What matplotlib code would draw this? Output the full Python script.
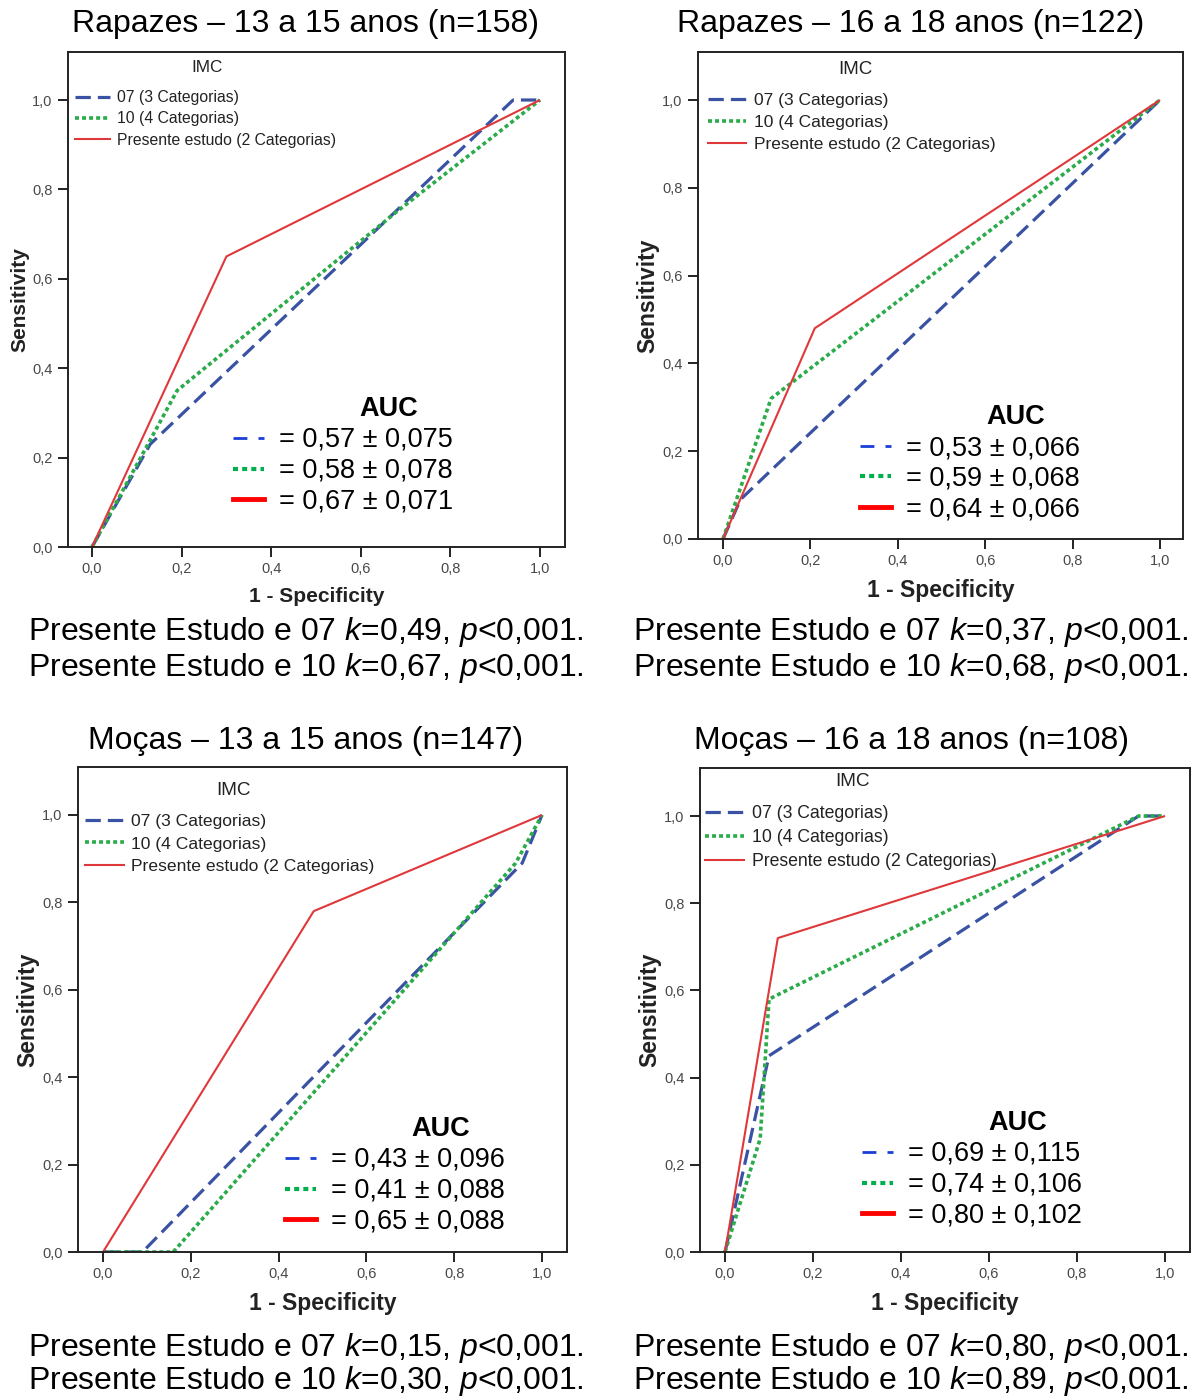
import numpy as np
import matplotlib.pyplot as plt
from matplotlib.lines import Line2D

plt.rcParams['font.family'] = ['Liberation Sans', 'DejaVu Sans']
plt.rcParams['mathtext.fontset'] = 'custom'
plt.rcParams['mathtext.rm'] = 'Liberation Sans'
plt.rcParams['mathtext.it'] = 'Liberation Sans:italic'

# data (x = 1 - specificity, y = sensitivity)
titles = ["Rapazes \u2013 13 a 15 anos (n=158)", "Rapazes \u2013 16 a 18 anos (n=122)",
          "Mo\u00e7as \u2013 13 a 15 anos (n=147)", "Mo\u00e7as \u2013 16 a 18 anos (n=108)"]
series_names = ["07 (3 Categorias)", "10 (4 Categorias)", "Presente estudo (2 Categorias)"]

r1315_07_x = [0, 0.13, 0.94, 1]
r1315_07_y = [0, 0.23, 1, 1]
r1315_10_x = [0, 0.19, 0.68, 1]
r1315_10_y = [0, 0.35, 0.75, 1]
r1315_pe_x = [0, 0.30, 1]
r1315_pe_y = [0, 0.65, 1]

r1618_07_x = [0, 0.04, 1]
r1618_07_y = [0, 0.09, 1]
r1618_10_x = [0, 0.11, 1]
r1618_10_y = [0, 0.32, 1]
r1618_pe_x = [0, 0.21, 1]
r1618_pe_y = [0, 0.48, 1]

m1315_07_x = [0, 0.09, 0.955, 1]
m1315_07_y = [0, 0, 0.89, 1]
m1315_10_x = [0, 0.16, 0.94, 1]
m1315_10_y = [0, 0, 0.89, 1]
m1315_pe_x = [0, 0.48, 1]
m1315_pe_y = [0, 0.78, 1]

m1618_07_x = [0, 0.10, 0.94, 1]
m1618_07_y = [0, 0.45, 1, 1]
m1618_10_x = [0, 0.08, 0.10, 0.94, 1]
m1618_10_y = [0, 0.26, 0.58, 1, 1]
m1618_pe_x = [0, 0.12, 1]
m1618_pe_y = [0, 0.72, 1]

curves = [
    [(r1315_07_x, r1315_07_y), (r1315_10_x, r1315_10_y), (r1315_pe_x, r1315_pe_y)],
    [(r1618_07_x, r1618_07_y), (r1618_10_x, r1618_10_y), (r1618_pe_x, r1618_pe_y)],
    [(m1315_07_x, m1315_07_y), (m1315_10_x, m1315_10_y), (m1315_pe_x, m1315_pe_y)],
    [(m1618_07_x, m1618_07_y), (m1618_10_x, m1618_10_y), (m1618_pe_x, m1618_pe_y)],
]

auc_r1315 = ["= 0,57 \u00b1 0,075", "= 0,58 \u00b1 0,078", "= 0,67 \u00b1 0,071"]
auc_r1618 = ["= 0,53 \u00b1 0,066", "= 0,59 \u00b1 0,068", "= 0,64 \u00b1 0,066"]
auc_m1315 = ["= 0,43 \u00b1 0,096", "= 0,41 \u00b1 0,088", "= 0,65 \u00b1 0,088"]
auc_m1618 = ["= 0,69 \u00b1 0,115", "= 0,74 \u00b1 0,106", "= 0,80 \u00b1 0,102"]
aucs = [auc_r1315, auc_r1618, auc_m1315, auc_m1618]

kappa_07 = ["0,49", "0,37", "0,15", "0,80"]
kappa_10 = ["0,67", "0,68", "0,30", "0,89"]

ticks = [0, 0.2, 0.4, 0.6, 0.8, 1.0]
tick_labels = ["0,0", "0,2", "0,4", "0,6", "0,8", "1,0"]

# layout (pixels)
W, H = 1201, 1400
fig = plt.figure(figsize=(W / 100, H / 100), dpi=100)


def fx(x):
    return x / W


def fy(y):
    return 1 - y / H


# box (left, top, right, bottom), pixel of x=0, x=1, y=0, y=1
boxes = [(68, 52, 565, 547), (698, 52, 1183, 539), (78, 767, 567, 1252), (700, 768, 1190, 1252)]
zero_one = [(92, 540, 547, 100), (723, 1160, 539, 100), (103, 542, 1252, 815), (725, 1165, 1252, 816)]
title_pos = [(306, 24), (911, 24), (306, 741), (911, 741)]
caption_pos = [(28, 632), (633, 632), (28, 1348), (633, 1348)]
caption_gap = [36, 36, 33, 33]
auc_pos = [(233, 438), (860, 446), (285, 1158), (862, 1152)]
imc_pos = [(207, 68), (855, 69), (233, 791), (853, 781)]
leg_pos = [(75, 90), (708, 93), (85, 814), (705, 805)]
leg_size = [11.3, 12.5, 12.6, 12.7]
lab_size = [15, 16.5, 16.5, 16.5]

line_styles = [
    dict(color="#3a52a3", lw=2.3, dashes=(4.8, 2.2)),
    dict(color="#2bab4a", lw=2.6, dashes=(1.1, 0.85)),
    dict(color="#e0383a", lw=1.5, linestyle="-"),
]
auc_styles = [
    dict(color="#1a3fd6", lw=2.0, dashes=(5, 4)),
    dict(color="#00b04f", lw=3.0, dashes=(1.2, 1.0)),
    dict(color="#ff0000", lw=3.5, linestyle="-"),
]

for i in range(4):
    l, t, r, b = boxes[i]
    x0, x1, y0, y1 = zero_one[i]
    ax = fig.add_axes([fx(l), fy(b), (r - l) / W, (b - t) / H])
    sx = x1 - x0
    sy = y0 - y1
    ax.set_xlim((l - x0) / sx, 1 + (r - x1) / sx)
    ax.set_ylim((y0 - b) / sy, (y0 - t) / sy)

    for (xs, ys), st in zip(curves[i], line_styles):
        ax.plot(xs, ys, solid_capstyle="butt", dash_capstyle="butt", **st)

    ax.set_xticks(ticks)
    ax.set_xticklabels(tick_labels)
    ax.set_yticks(ticks)
    ax.set_yticklabels(tick_labels)
    ax.tick_params(direction="out", length=7, width=1.4, labelsize=10.5,
                   labelcolor="#484848", color="#222222", pad=4)
    for sp in ax.spines.values():
        sp.set_linewidth(1.4)
        sp.set_color("#222222")
    ax.set_xlabel("1 - Specificity", fontsize=lab_size[i], fontweight="bold",
                  color="#222222", labelpad=8)
    ax.set_ylabel("Sensitivity", fontsize=lab_size[i], fontweight="bold",
                  color="#222222", labelpad=2)

    handles = [Line2D([], [], **st) for st in line_styles]
    lx, ly = leg_pos[i]
    leg = ax.legend(handles, series_names, loc="upper left",
                    bbox_to_anchor=((lx - l) / (r - l), 1 - (ly - t) / (b - t)), frameon=False,
                    fontsize=leg_size[i], handlelength=2.2, handletextpad=0.45,
                    labelspacing=0.4, borderpad=0, borderaxespad=0)
    for txt in leg.get_texts():
        txt.set_color("#222222")
    ix, iy = imc_pos[i]
    fig.text(fx(ix), fy(iy), "IMC", ha="center", va="center",
             fontsize=leg_size[i] + 1, color="#222222")

    # title and caption
    tx, ty = title_pos[i]
    fig.text(fx(tx), fy(ty), titles[i], ha="center", va="center", fontsize=23)
    cx, cy = caption_pos[i]
    fig.text(fx(cx), fy(cy), "Presente Estudo e 07 $k$=" + kappa_07[i] + ", $p$<0,001.",
             ha="left", va="center", fontsize=23)
    fig.text(fx(cx), fy(cy + caption_gap[i]),
             "Presente Estudo e 10 $k$=" + kappa_10[i] + ", $p$<0,001.",
             ha="left", va="center", fontsize=23)

    # AUC block
    hx, hy = auc_pos[i]
    fig.text(fx(hx + 156), fy(hy - 29), "AUC", ha="center", va="center",
             fontsize=19.5, fontweight="bold")
    for j in range(3):
        yy = hy + j * 30.5
        fig.add_artist(Line2D([fx(hx), fx(hx + 31)], [fy(yy), fy(yy)],
                              dash_capstyle="butt", **auc_styles[j]))
        fig.text(fx(hx + 46), fy(yy + 2), aucs[i][j], ha="left", va="center", fontsize=19.5)

fig.savefig("out.png", dpi=100)
